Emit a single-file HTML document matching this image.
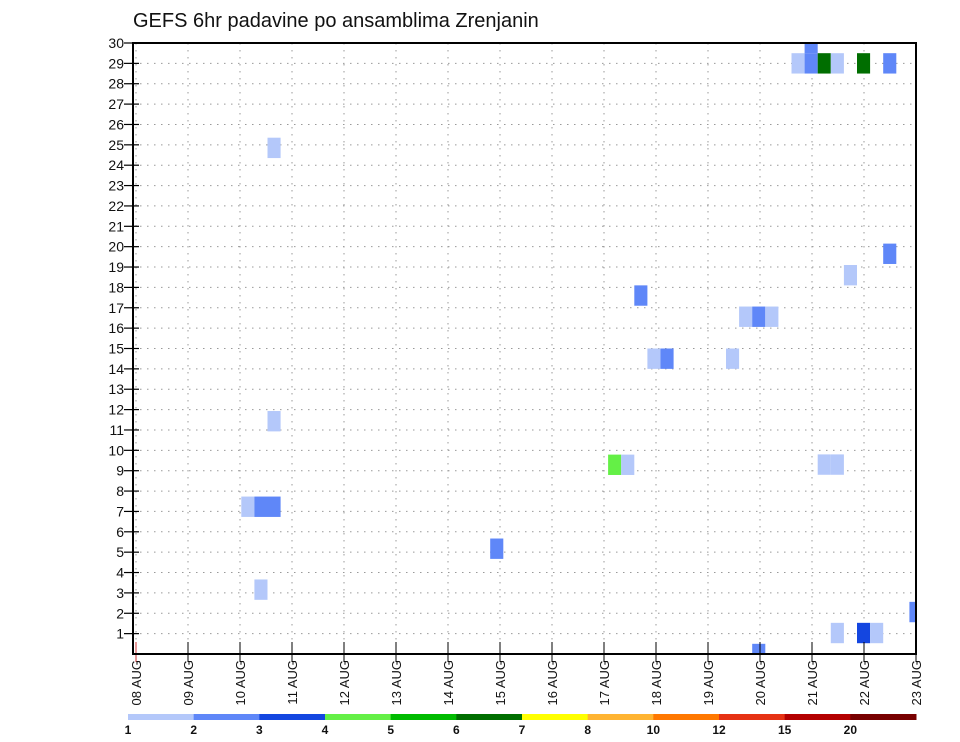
<!DOCTYPE html>
<html><head><meta charset="utf-8"><style>
body{margin:0;background:#fff;width:960px;height:742px;overflow:hidden}
svg{display:block;font-family:"Liberation Sans",sans-serif}
</style></head><body>
<svg id="chart" width="960" height="742">
<text x="133" y="27" font-size="20" fill="#111">GEFS 6hr padavine po ansamblima Zrenjanin</text>
<g id="grid"></g><g id="cells"></g><g id="axes"></g><g id="cbar"></g>
</svg>
<script>
const dayLabels=["08 AUG","09 AUG","10 AUG","11 AUG","12 AUG","13 AUG","14 AUG","15 AUG","16 AUG","17 AUG","18 AUG","19 AUG","20 AUG","21 AUG","22 AUG","23 AUG"];
const memberTicks=[1,2,3,4,5,6,7,8,9,10,11,12,13,14,15,16,17,18,19,20,21,22,23,24,25,26,27,28,29,30];
// cells: 6h step index, member y value (center), precip class value
const cellSteps=[10,10,8,9,10,9,27,36,37,38,39,40,45,46,47,48,52,53,54,57,50,51,51,52,53,55,57,53,55,56,59,47];
const cellMembers=[24.85,11.43,7.23,7.23,7.23,3.16,5.17,9.29,9.29,17.6,14.5,14.5,14.5,16.56,16.56,16.56,9.3,9.3,18.6,19.65,29,29,30,29,29,29,29,1.03,1.03,1.03,2.06,0];
const cellValues=[1.5,1.5,1.5,2.5,2.5,1.5,2.5,4.5,1.5,2.5,1.5,2.5,1.5,1.5,2.5,1.5,1.5,1.5,1.5,2.5,1.5,2.5,2.5,6.5,1.5,6.5,2.5,1.5,3.5,1.5,2.5,2.5];
const levels=[1,2,3,4,5,6,7,8,10,12,15,20];
const levelColors=["#b4c8fa","#5f87f8","#1446e0","#64f046","#00bb00","#006e00","#ffff00","#ffb432","#ff7800","#e63214","#b40000","#780000"];

const NS="http://www.w3.org/2000/svg";
const L=133,R=916,T=43,B=654;
const X0=136,DAY=52;
const xStep=s=>136.5+s*13.1;
const yVal=v=>T+(30-v)*(B-T)/30;
function mk(tag,attrs,parent){const e=document.createElementNS(NS,tag);for(const k in attrs)e.setAttribute(k,attrs[k]);parent.appendChild(e);return e;}
const grid=document.getElementById('grid'),cells=document.getElementById('cells'),axes=document.getElementById('axes'),cbar=document.getElementById('cbar');

memberTicks.forEach(v=>{const y=yVal(v);
 const g=mk('line',{x1:L,x2:R,y1:y,y2:y,stroke:'#999','stroke-width':1,'stroke-dasharray':'1.5,5.5'},grid);
 
 
 const t=mk('line',{x1:124,x2:139,y1:y,y2:y,stroke:'#000','stroke-width':1.2},axes);
 
 
 const tx=mk('text',{x:124,y:y+5,'font-size':14,'text-anchor':'end',fill:'#111'},axes);
 tx.textContent=v;
 
 
});
dayLabels.forEach((d,i)=>{const x=X0+i*DAY;
 const g=mk('line',{x1:x,x2:x,y1:T,y2:B,stroke:'#999','stroke-width':1,'stroke-dasharray':'1.5,5.5'},grid);
 
 
 const t=mk('line',{x1:x,x2:x,y1:B-12,y2:B+8,stroke:i==0?'#c33':'#000','stroke-width':1},axes);
 
 
 const tx=mk('text',{x:0,y:0,'font-size':13,'text-anchor':'end',fill:'#111',transform:`translate(${x+5},${B+6}) rotate(-90)`},axes);
 tx.textContent=d;
 
 
});
function colorFor(v){let c=levelColors[0];levels.forEach((l,i)=>{if(v>=l)c=levelColors[i];});return c;}
const cp=mk('clipPath',{id:'clip'},cells);
mk('rect',{x:L,y:T,width:R-L,height:B-T},cp);
const cg=mk('g',{'clip-path':'url(#clip)'},cells);
cellSteps.forEach((s,i)=>{const x=xStep(s),w=xStep(s+1)-x;const y=yVal(cellMembers[i]+0.5),h=yVal(cellMembers[i]-0.5)-y;
 const r=mk('rect',{x:x,y:y,width:w,height:h,fill:colorFor(cellValues[i])},cg);
 
 
});
const fr=mk('rect',{x:L,y:T,width:R-L,height:B-T,fill:'none',stroke:'#000','stroke-width':2},axes);


const CB0=128,CBW=(916-128)/levelColors.length;
levelColors.forEach((c,i)=>{
 const r=mk('rect',{x:CB0+i*CBW,y:714,width:CBW+0.5,height:6,fill:c},cbar);
 
 
 const t=mk('text',{x:CB0+i*CBW,y:734,'font-size':12,'font-weight':'bold','text-anchor':'middle',fill:'#111'},cbar);
 t.textContent=levels[i];
 
 
});
</script>
</body></html>
